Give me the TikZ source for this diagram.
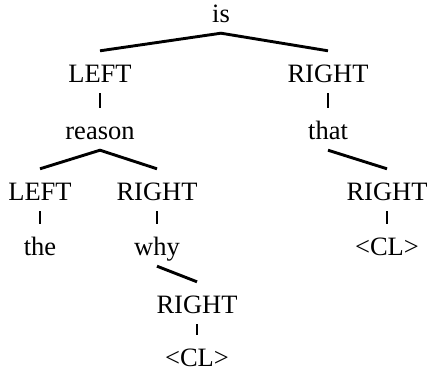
\documentclass[tikz,border=0pt]{standalone}
\usepackage{fontspec}
\setmainfont{Liberation Serif}
\begin{document}
\begin{tikzpicture}[x=1pt,y=-1pt,
  w/.style={anchor=base,inner xsep=0pt,inner ysep=11pt,text height=20pt,text depth=0pt,
    font=\fontsize{26.5}{30}\selectfont},
  br/.style={line width=2.9pt}]
\useasboundingbox (0,0) rectangle (429,378);
\node[w] (is) at (221,22) {is};
\node[w] (L1) at (100,82) {LEFT};
\node[w] (R1) at (328,82) {RIGHT};
\node[w] (reason) at (100,139) {reason};
\node[w] (that) at (328,139) {that};
\node[w] (L2) at (40,200) {LEFT};
\node[w] (R2) at (157,200) {RIGHT};
\node[w] (R3) at (387,200) {RIGHT};
\node[w] (the) at (40,255) {the};
\node[w] (why) at (157,255) {why};
\node[w] (CL1) at (387,255) {<CL>};
\node[w] (R4) at (197,313) {RIGHT};
\node[w] (CL2) at (197,366) {<CL>};
\draw[br] (L1.north) -- (is.south) -- (R1.north);
\draw[br] (L1.south) -- (reason.north);
\draw[br] (R1.south) -- (that.north);
\draw[br] (L2.north) -- (reason.south) -- (R2.north);
\draw[br] (that.south) -- (R3.north);
\draw[br] (L2.south) -- (the.north);
\draw[br] (R2.south) -- (why.north);
\draw[br] (R3.south) -- (CL1.north);
\draw[br] (why.south) -- (R4.north);
\draw[br] (R4.south) -- (CL2.north);
\end{tikzpicture}
\end{document}
